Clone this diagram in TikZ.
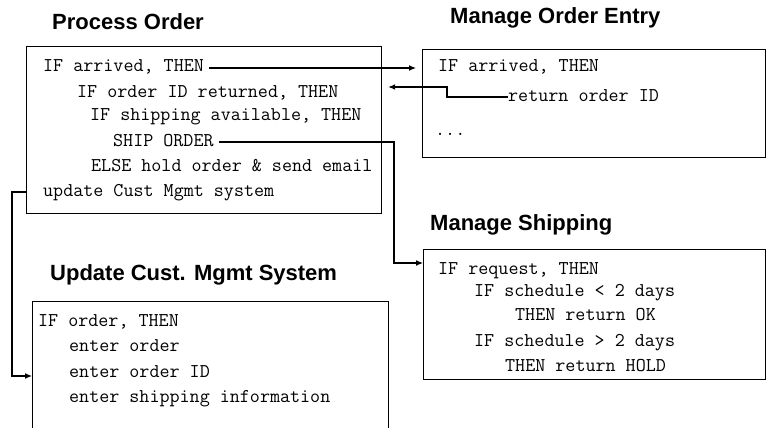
\documentclass[tikz,border=0pt]{standalone}
\usepackage{fontspec}
\setmainfont{Liberation Sans}
\newfontfamily\codefam{Latin Modern Mono}
\usetikzlibrary{arrows.meta}
\usetikzlibrary{positioning}

\tikzset{
  box/.style={draw=black,line width=1.2pt,anchor=north west,inner sep=0pt},
  heading/.style={font=\fontsize{22}{24}\selectfont\bfseries,text=black,anchor=west,inner sep=0pt},
  codeline/.style={font=\codefam\fontsize{19.5}{21}\selectfont,text=black,anchor=west,inner sep=0pt,text height=11pt,text depth=3pt},
  link/.style={draw=black,line width=1.2pt,-{Latex[length=7pt,width=6pt]}}
}

\begin{document}
\begin{tikzpicture}[x=1pt,y=-1pt]
\clip (0,0) rectangle (766,428);
\fill[white] (0,0) rectangle (766,428);

\node[heading] (poTitle) at (52,22) {Process Order};
\node[box,minimum width=355pt,minimum height=167pt] (po) at (26,46) {};
\node[codeline] (poA) at (43,68) {IF arrived, THEN};
\node[codeline] (poB) at (77,93) {IF order ID returned, THEN};
\node[codeline] (poC) at (90,117) {IF shipping available, THEN};
\node[codeline] (poD) at (113,142) {SHIP ORDER};
\node[codeline] (poE) at (91,167) {ELSE hold order \& send email};
\node[codeline] (poF) at (43,192) {update Cust Mgmt system};

\node[heading] (moeTitle) at (450,18) {Manage Order Entry};
\node[box,minimum width=343pt,minimum height=108pt] (moe) at (422,49) {};
\node[codeline] (moeA) at (438,68) {IF arrived, THEN};
\node[codeline] (moeB) at (508,97) {return order ID};
\node[codeline] (moeC) at (435,131) {...};

\node[heading] (msTitle) at (430,225) {Manage Shipping};
\node[box,minimum width=342pt,minimum height=130pt] (ms) at (423,249) {};
\node[codeline] (msA) at (438,270) {IF request, THEN};
\node[codeline] (msB) at (474,292) {IF schedule < 2 days};
\node[codeline] (msC) at (515,316) {THEN return OK};
\node[codeline] (msD) at (474,342) {IF schedule > 2 days};
\node[codeline] (msE) at (505,367) {THEN return HOLD};

\node[heading] (ucmTitle) at (50,275) {Update Cust. Mgmt System};
\node[box,minimum width=356pt,minimum height=140pt] (ucm) at (32,301) {};
\node[codeline] (ucmA) at (38,322) {IF order, THEN};
\node[codeline] (ucmB) at (69,347) {enter order};
\node[codeline] (ucmC) at (69,373) {enter order ID};
\node[codeline] (ucmD) at (69,398) {enter shipping information};

\coordinate (retTurn) at (447,87);
\coordinate (shipTurn) at (394,263);
\coordinate (updTurn) at (12,376);

\draw[link] ([xshift=5pt]poA.east) -- ([xshift=-6pt]poA.east -| moe.west);
\draw[link] (moeB.west) -| (retTurn) -- ([xshift=6pt]retTurn -| po.east);
\draw[link] ([xshift=5pt]poD.east) -| (shipTurn) -- (shipTurn -| ms.west);
\draw[link] (poF.west -| po.west) -| (updTurn) -- (updTurn -| ucm.west);
\end{tikzpicture}
\end{document}
